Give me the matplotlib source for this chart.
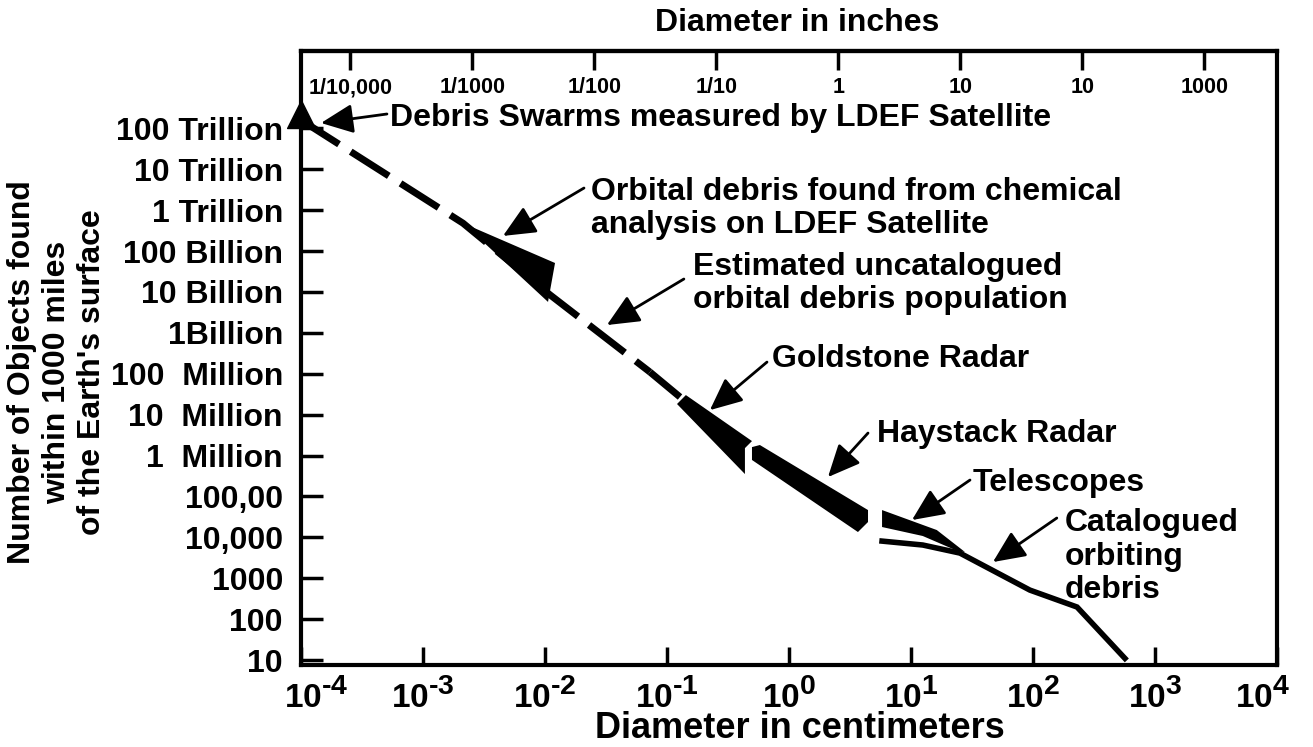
import matplotlib
matplotlib.use("Agg")
import matplotlib.pyplot as plt
import matplotlib.transforms as mtransforms
import matplotlib._mathtext as _mt
from matplotlib.path import Path
from matplotlib.ticker import FixedLocator, NullLocator, FixedFormatter

plt.rcParams['font.family'] = ['Liberation Sans', 'DejaVu Sans']
plt.rcParams['font.weight'] = 'bold'
plt.rcParams['mathtext.fontset'] = 'custom'
plt.rcParams['mathtext.rm'] = 'Liberation Sans:bold'
plt.rcParams['mathtext.it'] = 'Liberation Sans:bold'
plt.rcParams['mathtext.bf'] = 'Liberation Sans:bold'
plt.rcParams['mathtext.default'] = 'rm'
# the reference's exponents are nearly as large as the base digits
_mt.SHRINK_FACTOR = 0.85

# ---------------- data ----------------
# bottom axis (diameter in cm)
x_ticks_cm = [1e-4, 1e-3, 1e-2, 1e-1, 1e0, 1e1, 1e2, 1e3, 1e4]
x_tick_labels = ['$10^{\\text{-4}}$', '$10^{\\text{-3}}$', '$10^{\\text{-2}}$',
                 '$10^{\\text{-1}}$', '$10^{0}$', '$10^{1}$', '$10^{2}$',
                 '$10^{3}$', '$10^{4}$']
# top axis (diameter in inches)
in_ticks = [1e-4, 1e-3, 1e-2, 1e-1, 1e0, 1e1, 1e2, 1e3]
in_tick_labels = ['1/10,000', '1/1000', '1/100', '1/10', '1', '10', '10', '1000']
# left axis (number of objects)
y_ticks = [1e1, 1e2, 1e3, 1e4, 1e5, 1e6, 1e7, 1e8, 1e9, 1e10, 1e11, 1e12, 1e13, 1e14]
y_tick_labels = ['10', '100', '1000', '10,000', '100,00', '1  Million', '10  Million',
                 '100  Million', '1Billion', '10 Billion', '100 Billion', '1 Trillion',
                 '10 Trillion', '100 Trillion']

# debris swarms measured by LDEF (single point)
swarm_d = [1e-4]
swarm_n = [1e14]

# estimated uncatalogued population (dashed) and its solid tail
est_d = [1e-4, 0.00213, 0.0110, 0.0726]
est_n = [1.6e14, 4.8e11, 8.5e9, 1.10e8]
est_tail_d = [0.0726, 0.128]
est_tail_n = [1.10e8, 2.7e7]

# LDEF chemical analysis wedge
ldef_d = [0.00213, 0.0121, 0.0106]
ldef_n = [4.8e11, 5.1e10, 5.7e9]

# Goldstone radar band
gold_d = [0.121, 0.143, 0.498, 0.436, 0.436]
gold_n = [1.82e7, 3.01e7, 2.26e6, 1.52e6, 3.53e5]

# Haystack radar band
hay_d = [0.498, 0.578, 4.45, 4.45, 3.68, 0.498]
hay_n = [1.61e6, 1.81e6, 4.65e4, 2.37e4, 1.35e4, 7.8e5]

# Telescopes band
tel_d = [5.8, 16.3, 27.7, 24.3, 12.5, 5.8]
tel_n = [4.65e4, 1.51e4, 4.4e3, 4.6e3, 1.08e4, 1.79e4]

# Catalogued orbiting debris
cat_d = [5.8, 12.5, 25.2, 94.4, 230, 568]
cat_n = [8100, 6500, 4130, 514, 198, 11]

# annotations: label, text position (last-line baseline), arrow tail, arrow tip
notes = [
    ("Debris Swarms measured by LDEF Satellite", (5.37e-4, 1.14e14), (5.07e-4, 2.24e14), (1.46e-4, 1.35e14)),
    ("Orbital debris found from chemical\nanalysis on LDEF Satellite", (0.0238, 2.75e11), (0.0209, 3.47e12), (4.53e-3, 2.34e11)),
    ("Estimated uncatalogued\norbital debris population", (0.163, 4.0e9), (0.1377, 2.07e10), (0.0322, 1.55e9)),
    ("Goldstone Radar", (0.726, 1.46e8), (0.661, 1.93e8), (0.225, 1.29e7)),
    ("Haystack Radar", (5.26, 2.14e6), (4.45, 3.55e6), (2.09, 2.98e5)),
    ("Telescopes", (32.2, 1.36e5), (30.5, 2.52e5), (10.2, 2.65e4)),
    ("Catalogued\norbiting\ndebris", (183, 328), (157, 2.97e4), (47.0, 2.49e3)),
]

# ---------------- figure ----------------
fig = plt.figure(figsize=(13.13, 7.47), dpi=100)
ax = fig.add_axes([0.2292, 0.1098, 0.7433, 0.8219])
ax.set_xscale('log')
ax.set_yscale('log')
ax.set_xlim(1e-4, 1e4)
ax.set_ylim(10 ** 0.88, 10 ** 15.89)

for s in ax.spines.values():
    s.set_linewidth(3)

ax.xaxis.set_major_locator(FixedLocator(x_ticks_cm))
ax.xaxis.set_major_formatter(FixedFormatter(x_tick_labels))
ax.xaxis.set_minor_locator(NullLocator())
ax.yaxis.set_major_locator(FixedLocator(y_ticks))
ax.yaxis.set_major_formatter(FixedFormatter(y_tick_labels))
ax.yaxis.set_minor_locator(NullLocator())
ax.tick_params(axis='x', which='major', direction='in', length=13, width=2.5,
               labelsize=24, pad=10, top=False)
ax.tick_params(axis='y', which='major', direction='in', length=16, width=2.5,
               labelsize=23, pad=13, right=False)

sec = ax.secondary_xaxis('top', functions=(lambda x: x / 2.54, lambda x: x * 2.54))
sec.set_xticks(in_ticks)
sec.set_xticklabels(in_tick_labels)
sec.xaxis.set_minor_locator(NullLocator())
sec.tick_params(direction='in', length=14, width=2.5, pad=-34, labelsize=15.5)
sec.spines['top'].set_linewidth(3)

# nudge the end labels of the bottom axis inward, as in the reference
xt = ax.xaxis.get_major_ticks()
xt[0].label1.set_transform(xt[0].label1.get_transform() +
                           mtransforms.ScaledTranslation(0.15, 0, fig.dpi_scale_trans))
xt[-1].label1.set_transform(xt[-1].label1.get_transform() +
                            mtransforms.ScaledTranslation(-0.14, 0, fig.dpi_scale_trans))

# curves
ax.plot(est_d, est_n, color='black', lw=5, linestyle=(0, (6.5, 2.0)),
        dash_capstyle='butt', solid_capstyle='butt')
ax.plot(est_tail_d, est_tail_n, color='black', lw=5, solid_capstyle='butt')
ax.fill(ldef_d, ldef_n, color='black', lw=0)
ax.fill(gold_d, gold_n, color='black', lw=0)
ax.fill(hay_d, hay_n, color='black', lw=0)
ax.fill(tel_d, tel_n, color='black', lw=0)
ax.plot(cat_d, cat_n, color='black', lw=4, solid_joinstyle='miter')

tri = Path([(-1, 0), (1, 0), (0, 2), (-1, 0)],
           [Path.MOVETO, Path.LINETO, Path.LINETO, Path.CLOSEPOLY])
ax.plot(swarm_d, swarm_n, linestyle='none', marker=tri, markersize=40,
        color='black', clip_on=False, zorder=5)

for label, txt, tail, tip in notes:
    ax.text(txt[0], txt[1], label, fontsize=23, fontweight='bold', ha='left',
            va='baseline', linespacing=1.15)
    ax.annotate('', xy=tip, xytext=tail,
                arrowprops=dict(arrowstyle='-|>,head_length=0.55,head_width=0.25',
                                mutation_scale=36, lw=2, color='black',
                                shrinkA=0, shrinkB=0))

fig.text(797 / 1313, 1 - 23 / 747, 'Diameter in inches', fontsize=23,
         fontweight='bold', ha='center', va='center')
fig.text(800 / 1313, 1 - 729 / 747, 'Diameter in centimeters', fontsize=26,
         fontweight='bold', ha='center', va='center')
fig.text(57 / 1313, 1 - 372 / 747,
         "Number of Objects found\nwithin 1000 miles\nof the Earth's surface",
         fontsize=23, fontweight='bold', ha='center', va='center', rotation=90,
         multialignment='center', linespacing=1.22)

fig.savefig('out.png', dpi=100)
